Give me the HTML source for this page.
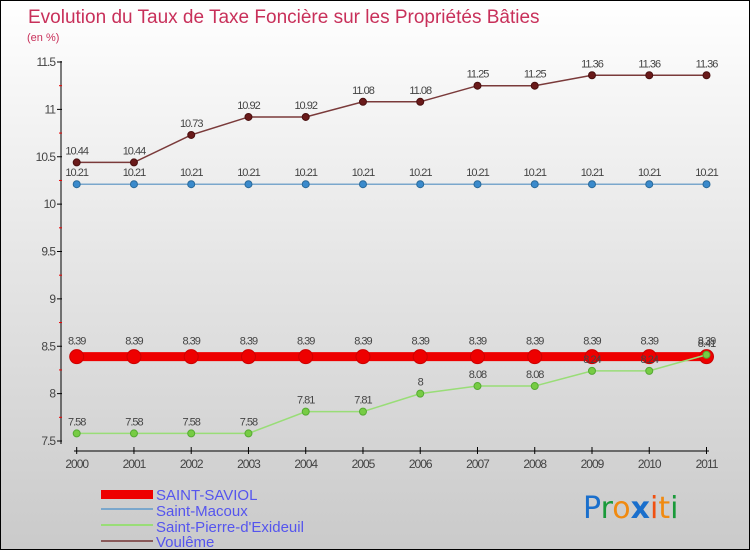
<!DOCTYPE html>
<html><head><meta charset="utf-8"><style>
body{margin:0;width:750px;height:550px;overflow:hidden;font-family:"Liberation Sans",sans-serif}
#wrap{position:relative;width:748px;height:548px;border:1px solid #000;background:linear-gradient(#fff,#f4f4f4 20%,#cacaca)}
svg{position:absolute;left:0;top:0}
</style></head><body>
<div id="wrap">
<svg id="chart" width="750" height="550">
<text x="27" y="22" font-size="19" fill="#c8305a">Evolution du Taux de Taxe Foncière sur les Propriétés Bâties</text>
<text x="26" y="40" font-size="11" fill="#c8305a">(en %)</text>
<g id="axes"></g><g id="series"></g>
<g>
<rect x="100" y="489" width="52" height="9" fill="#e00"/>
<text x="155" y="499" font-size="15" fill="#5555ee">SAINT-SAVIOL</text>
<line x1="100" y1="508" x2="152" y2="508" stroke="#7aa7cc" stroke-width="2"/>
<text x="155" y="515" font-size="15" fill="#5555ee">Saint-Macoux</text>
<line x1="100" y1="524" x2="152" y2="524" stroke="#99dd77" stroke-width="2"/>
<text x="155" y="531" font-size="15" fill="#5555ee">Saint-Pierre-d'Exideuil</text>
<line x1="100" y1="540" x2="152" y2="540" stroke="#8a5a5a" stroke-width="2"/>
<text x="155" y="546" font-size="15" fill="#5555ee">Voulême</text>
</g>
<g font-size="30" font-family="'DejaVu Sans',sans-serif">
<text x="582" y="517"><tspan fill="#1a6fcc">P</tspan><tspan fill="#1a9a3a">r</tspan><tspan fill="#f08a10">o</tspan><tspan fill="#1a6fcc" font-weight="bold">x</tspan><tspan fill="#f05010">i</tspan><tspan fill="#f08a10">t</tspan><tspan fill="#1a9a3a">i</tspan></text>
</g>
</svg></div>
<script>
const years=[2000,2001,2002,2003,2004,2005,2006,2007,2008,2009,2010,2011];
const yTicks=[7.5,8,8.5,9,9.5,10,10.5,11,11.5];
const saintSaviol=[8.39,8.39,8.39,8.39,8.39,8.39,8.39,8.39,8.39,8.39,8.39,8.39];
const saintMacoux=[10.21,10.21,10.21,10.21,10.21,10.21,10.21,10.21,10.21,10.21,10.21,10.21];
const saintPierre=[7.58,7.58,7.58,7.58,7.81,7.81,8,8.08,8.08,8.24,8.24,8.41];
const voulene=[10.44,10.44,10.73,10.92,10.92,11.08,11.08,11.25,11.25,11.36,11.36,11.36];
const NS="http://www.w3.org/2000/svg";
const X0=75.7,X1=705.5,Y0=440,Y1=61,VMIN=7.5,VMAX=11.5;
function xs(i){return X0+(X1-X0)*i/(years.length-1);}
function ys(v){return Y0-(v-VMIN)/(VMAX-VMIN)*(Y0-Y1);}
function mk(t,a,p){const e=document.createElementNS(NS,t);for(const k in a)e.setAttribute(k,a[k]);p.appendChild(e);return e;}
const ax=document.getElementById('axes');
const yl=mk('line',{x1:60,y1:60,x2:60,y2:443,stroke:'#000'},ax);


const xl=mk('line',{x1:73,y1:450,x2:708,y2:450,stroke:'#000'},ax);


yTicks.forEach((v,i)=>{const y=ys(v);mk('line',{x1:56,y1:y,x2:61,y2:y,stroke:'#000'},ax);
const t=mk('text',{x:54,y:y+4,'text-anchor':'end','font-size':12,fill:'#444','letter-spacing':'-1'},ax);t.textContent=v;


if(i<yTicks.length-1){const m=ys(v+0.25);mk('line',{x1:58,y1:m,x2:61,y2:m,stroke:'#e00'},ax);}});
years.forEach((yr,i)=>{const x=xs(i);mk('line',{x1:x,y1:446,x2:x,y2:453,stroke:'#000'},ax);
const t=mk('text',{x:x,y:467,'text-anchor':'middle','font-size':12,fill:'#444','letter-spacing':'-1'},ax);t.textContent=yr;

});
const sg=document.getElementById('series');
function draw(data,name,color,w,r,fill,stroke,lab){
const g=mk('g',{},sg);


mk('polyline',{points:data.map((v,i)=>xs(i)+','+ys(v)).join(' '),fill:'none',stroke:color,'stroke-width':w},g);
data.forEach((v,i)=>{const c=mk('circle',{cx:xs(i),cy:ys(v),r:r,fill:fill,stroke:stroke},g);


const t=mk('text',{x:xs(i),y:ys(v)-lab,'text-anchor':'middle','font-size':11,fill:'#444','letter-spacing':'-1'},g);t.textContent=v;

});}
draw(voulene,'voulene','#7a3a3a',1.5,3.5,'#6a1a1a','#4a1010',8);
draw(saintMacoux,'saint-macoux','#7aa7cc',1.5,3.5,'#3a8acc','#2a6a9a',8);
draw(saintSaviol,'saint-saviol','#e00',9,7,'#e00','#c00',12);
draw(saintPierre,'saint-pierre','#99dd77',1.5,3.5,'#77cc44','#55aa33',8);
</script></body></html>
